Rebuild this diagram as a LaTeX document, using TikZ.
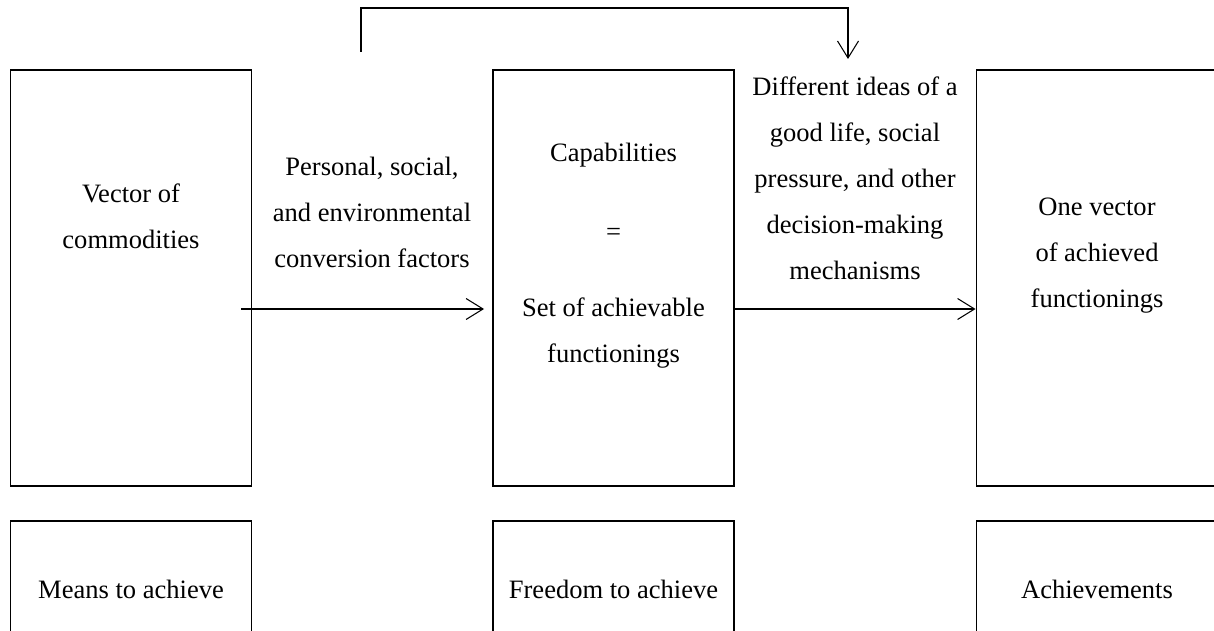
\documentclass[tikz,border=0pt]{standalone}
\usepackage{fontspec}
\setmainfont{Liberation Serif}
\usetikzlibrary{arrows.meta}

\begin{document}
\begin{tikzpicture}[
        % --- Box and text styles ---
        bigbox/.style={
            draw, line width=1.1pt, inner sep=0pt,
            minimum width=4.82cm, minimum height=8.32cm
        },
        smallbox/.style={
            draw, line width=1.1pt, inner sep=0pt,
            minimum width=4.82cm, minimum height=2.76cm
        },
        txt/.style={
            align=center, inner sep=0pt,
            font=\fontsize{15.1pt}{26.2pt}\selectfont
        },
        flow/.style={
            line width=0.6pt,
            -{Straight Barb[length=0.34cm, width=0.42cm, line width=0.6pt]}
        },
    ]

    \useasboundingbox (0,0) rectangle (24.28,-12.62);

    % ===== Column centres =====
    %  Means:       x = 2.62
    %  Freedom:     x = 12.27
    %  Achievement: x = 21.94

    % ===== Upper boxes =====
    \node[bigbox] (commbox) at (2.62, -5.56)  {};
    \node[bigbox] (capbox)  at (12.27, -5.56) {};
    \node[bigbox] (funcbox) at (21.94, -5.56) {};

    \node[txt] (commtext) at (2.62, -4.33) {Vector of\\commodities};
    \node[txt] (captext)  at (12.27, -5.12)
        {Capabilities\\[0.66cm]=\\[0.60cm]Set of achievable\\functionings};
    \node[txt] (functext) at (21.94, -5.12)
        {One vector\\of achieved\\functionings};

    % ===== Conversion labels =====
    \node[txt] (convtext)  at (7.44, -4.24)
        {Personal, social,\\and environmental\\conversion factors};
    \node[txt] (ideastext) at (17.10, -3.56)
        {Different ideas of a\\good life, social\\pressure, and other\\decision-making\\mechanisms};

    % ===== Lower boxes =====
    \node[smallbox] (meansbox)   at (2.62, -11.80)  {};
    \node[smallbox] (freedombox) at (12.27, -11.80) {};
    \node[smallbox] (achievebox) at (21.94, -11.80) {};

    \node[txt] at (2.62, -11.78)  {Means to achieve};
    \node[txt] at (12.27, -11.78) {Freedom to achieve};
    \node[txt] at (21.94, -11.78) {Achievements};

    % ===== Arrows =====
    \draw[flow] ([shift={(-0.22,-0.62)}]commbox.east) -- ([shift={(-0.16,-0.62)}]capbox.west);
    \draw[flow] ([yshift=-0.62cm]capbox.east) -- ([yshift=-0.62cm]funcbox.west);

    % Feedback link over the top
    \coordinate (loopstart) at (7.22, -1.04);
    \coordinate (loopend)   at (16.96, -1.18);
    \draw[flow] (loopstart) -- ++(0, 0.88) -| (loopend);

\end{tikzpicture}
\end{document}
